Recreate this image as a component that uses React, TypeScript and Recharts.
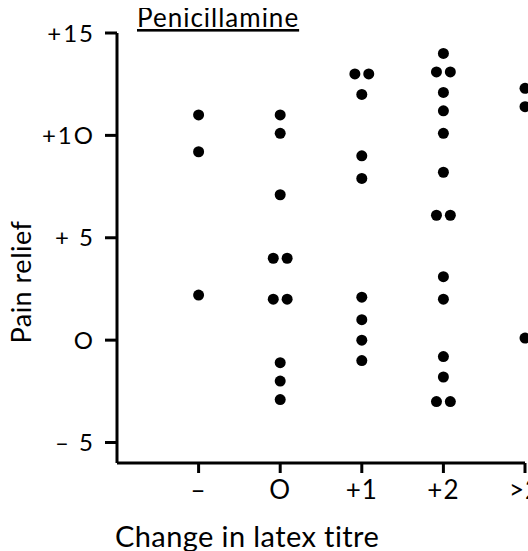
import { ScatterChart, Scatter, XAxis, YAxis } from "recharts";

// change in latex titre categories (x ticks 1..5)
const categories = ["–", "O", "+1", "+2", ">2"];
const yTicks = [-5, 0, 5, 10, 15];
const yTickLabels = ["– 5", "O", "+ 5", "+1O", "+15"];

// pain relief per patient
const minusVals = [11, 9.2, 2.2];
const zeroVals = [11, 10.1, 7.1, 4, 4, 2, 2, -1.1, -2, -2.9];
const plusOneVals = [13, 13, 12, 9, 7.9, 2.1, 1, 0, -1];
const plusTwoVals = [14, 13.1, 13.1, 12.1, 11.2, 10.1, 8.2, 6.1, 6.1, 3.1, 2, -0.8, -1.8, -3, -3];
const overTwoVals = [12.3, 11.4, 0.1];

const columns = [minusVals, zeroVals, plusOneVals, plusTwoVals, overTwoVals];

// equal values in a column sit side by side
const points = columns.flatMap((vals, i) =>
  vals.map((v, j) => {
    const same = vals.filter((w) => w === v).length;
    const k = vals.slice(0, j).filter((w) => w === v).length;
    const off = same > 1 ? (k === 0 ? -0.085 : 0.085) : 0;
    return { x: i + 1 + off, y: v };
  })
);

const FONT = "Lato, 'DejaVu Sans', sans-serif";

const XTick = (props: any) => {
  const { x, y, payload } = props;
  return (
    <text x={x} y={y + 24} textAnchor="middle" fontSize={26} fontFamily={FONT} letterSpacing={1} fill="#000">
      {categories[payload.value - 1]}
    </text>
  );
};

const YTick = (props: any) => {
  const { x, y, payload } = props;
  const i = yTicks.indexOf(payload.value);
  return (
    <text x={x - 8} y={y} dy="0.36em" textAnchor="end" fontSize={24} fontFamily={FONT} letterSpacing={2} fill="#000">
      {yTickLabels[i]}
    </text>
  );
};

export default function App() {
  return (
    <div style={{ position: "absolute", left: 8, top: 8, width: 520, height: 543, overflow: "hidden" }}>
      <ScatterChart
        width={560}
        height={543}
        margin={{ top: 25, right: 43, left: 0, bottom: 0 }}
      >
        <XAxis
          type="number"
          dataKey="x"
          domain={[0, 5]}
          ticks={[1, 2, 3, 4, 5]}
          height={88}
          stroke="#000"
          strokeWidth={3}
          tickSize={10}
          tick={<XTick />}
        />
        <YAxis
          type="number"
          dataKey="y"
          domain={[-6, 15]}
          ticks={yTicks}
          width={109}
          stroke="#000"
          strokeWidth={3}
          tickSize={12}
          tick={<YTick />}
        />
        <Scatter data={points} fill="#000" shape={(p: any) => <circle cx={p.cx} cy={p.cy} r={5.5} fill="#000" />} isAnimationActive={false} />
        <text x={129} y={19} fontSize={26} fontFamily={FONT} letterSpacing={1} fill="#000" style={{ textDecoration: "underline" }}>
          Penicillamine
        </text>
        <text
          x={23}
          y={274}
          transform="rotate(-90 23 274)"
          textAnchor="middle"
          fontSize={27}
          fontFamily={FONT}
          letterSpacing={0.5}
          fill="#000"
        >
          Pain relief
        </text>
        <text x={107} y={539} fontSize={29} fontFamily={FONT} letterSpacing={0.4} fill="#000">
          Change in latex titre
        </text>
      </ScatterChart>
    </div>
  );
}
